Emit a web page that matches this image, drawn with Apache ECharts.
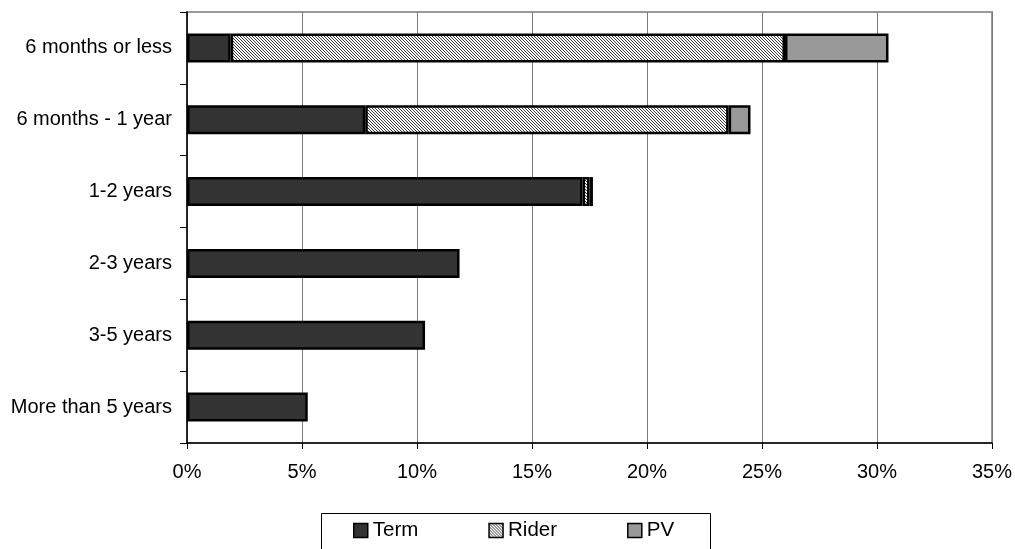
<!DOCTYPE html>
<html>
<head>
<meta charset="utf-8">
<script src="https://cdn.jsdelivr.net/npm/echarts@6/dist/echarts.min.js"></script>
<style>
  html, body { margin: 0; padding: 0; background: #fff; }
  #chart { width: 1015px; height: 549px; }
</style>
</head>
<body>
<div id="chart"></div>
<script>
// Duration buckets, top to bottom
const categories = ['6 months or less', '6 months - 1 year', '1-2 years', '2-3 years', '3-5 years', 'More than 5 years'];
// Share of each product type (percent)
const termValues  = [1.9, 7.75, 17.2, 11.85, 10.35, 5.25];
const riderValues = [24.1, 15.8, 0.3, null, null, null];
const pvValues    = [4.5, 0.95, 0.15, null, null, null];
const xTicks = { min: 0, max: 35, interval: 5 };

// Fine diagonal hatch used for the Rider segments
function makeHatch() {
  const c = document.createElement('canvas');
  c.width = 3; c.height = 3;
  const g = c.getContext('2d');
  g.fillStyle = '#ffffff';
  g.fillRect(0, 0, 3, 3);
  g.fillStyle = '#3a3a3a';
  for (let y = 0; y < 3; y++) g.fillRect(y, y, 1, 1);
  return c;
}
const hatch = { image: makeHatch(), repeat: 'repeat' };

const font = 'Liberation Sans, Arial, sans-serif';
const chart = echarts.init(document.getElementById('chart'), null, { renderer: 'canvas' });

const barStyle = (color) => ({ color: color, borderColor: '#000', borderWidth: 2.5 });

chart.setOption({
  animation: false,
  backgroundColor: '#fff',
  textStyle: { fontFamily: font },
  grid: {
    left: 187, right: 23, top: 12, bottom: 106,
    show: true, borderColor: '#999', borderWidth: 2, backgroundColor: 'transparent'
  },
  xAxis: {
    type: 'value',
    min: xTicks.min, max: xTicks.max, interval: xTicks.interval,
    axisLine: { show: true, lineStyle: { color: '#000', width: 1.5 } },
    axisTick: { show: true, inside: false, length: 6, lineStyle: { color: '#000' } },
    axisLabel: { formatter: '{value}%', color: '#000', fontSize: 20, fontFamily: font, margin: 19 },
    splitLine: { show: true, lineStyle: { color: '#7a7a7a', width: 1 } }
  },
  yAxis: {
    type: 'category',
    inverse: true,
    data: categories,
    axisLine: { show: true, lineStyle: { color: '#000', width: 1.5 } },
    axisTick: { show: true, inside: false, length: 7, lineStyle: { color: '#000' } },
    axisLabel: { color: '#000', fontSize: 20, fontFamily: font, margin: 15 },
    splitLine: { show: false }
  },
  legend: {
    left: 353, top: 520,
    padding: 0,
    itemWidth: 14, itemHeight: 14, itemGap: 70,
    icon: 'rect',
    textStyle: { color: '#000', fontSize: 20.5, fontFamily: font },
    itemStyle: { borderColor: '#000', borderWidth: 1.5 },
    data: ['Term', 'Rider', 'PV']
  },
  graphic: [{
    type: 'rect',
    left: 319, top: 511,
    shape: { width: 389, height: 60 },
    style: { fill: 'none', stroke: '#000', lineWidth: 1 },
    silent: true, z: 10
  }],
  series: [
    { name: 'Term',  type: 'bar', stack: 'all', barWidth: 29, data: termValues,  itemStyle: barStyle('#333333') },
    { name: 'Rider', type: 'bar', stack: 'all', barWidth: 29, data: riderValues, itemStyle: barStyle(hatch) },
    { name: 'PV',    type: 'bar', stack: 'all', barWidth: 29, data: pvValues,    itemStyle: barStyle('#999999') }
  ]
});
</script>
</body>
</html>
